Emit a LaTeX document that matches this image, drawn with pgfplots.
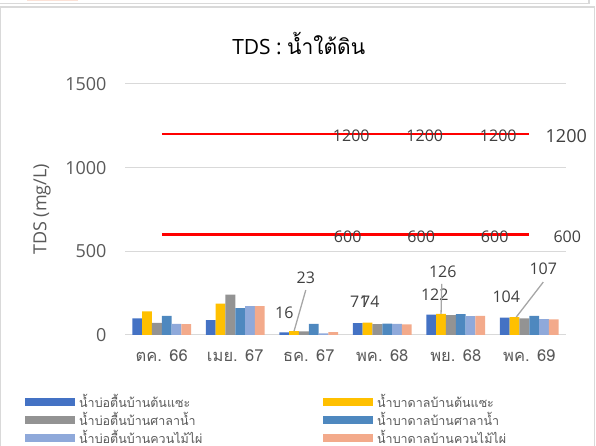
\documentclass[border=0pt]{standalone}
\usepackage{pgfplots}
\usepackage{pgfplotstable}
\pgfplotsset{compat=1.18}
\usepackage{fontspec}
\setmainfont{Open Sans}
\newfontfamily\thai[Script=Thai]{Loma}

\definecolor{txt}{HTML}{595959}
\definecolor{lbl}{HTML}{404040}
\definecolor{gridc}{HTML}{D9D9D9}
\definecolor{leader}{HTML}{A6A6A6}
\definecolor{cA}{HTML}{4472C4}
\definecolor{cB}{HTML}{FFC000}
\definecolor{cC}{HTML}{939393}
\definecolor{cD}{HTML}{4E88BF}
\definecolor{cE}{HTML}{8FA9DA}
\definecolor{cF}{HTML}{F3AA8B}

% TDS (mg/L) per sampling round
\pgfplotstableread{
x s1  s2  s3  s4  s5  s6
0 99  141 73  115 67  65
1 89  187 242 161 173 173
2 16  23  22  67  10  17
3 71  74  65  68  67  63
4 122 126 119 125 113 115
5 104 107 99  115 95  93
}\tds

\pgfplotsset{chart/.style={
    scale only axis, width=441bp, height=251bp,
    at={(125bp,111bp)}, anchor=south west,
    xmin=-0.5, xmax=5.5, ymin=0, ymax=1500}}
\tikzset{lab/.style={lbl, font=\fontsize{16bp}{18bp}\selectfont, inner sep=0pt}}

\begin{document}
\begin{tikzpicture}[x=1bp,y=1bp]
\useasboundingbox (0,0) rectangle (596,446);
% chart frame and the edge of the chart above
\draw[gridc, line width=1.2bp] (0.6,-2) -- (0.6,439) -- (594.4,439) -- (594.4,-2);
\draw[gridc, line width=1.2bp] (0,442.5) -- (589,442.5) -- (589,447);
\fill[cF!35] (27,445.2) rectangle (78,447);

\begin{axis}[chart,
    ybar=0pt, bar width=9.8bp,
    xtick={0,...,5},
    xticklabels={{ตค. 66},{เมย. 67},{ธค. 67},{พค. 68},{พย. 68},{พค. 69}},
    ytick={0,500,1000,1500},
    ymajorgrids, grid style={gridc, line width=1bp},
    axis line style={draw=none}, major tick length=0pt,
    /pgf/number format/assume math mode=true,
    /pgf/number format/1000 sep={},
    yticklabel style={text=txt, font=\fontsize{18bp}{20bp}\selectfont, xshift=-15bp},
    xticklabel style={text=txt, font=\fontsize{16.5bp}{18bp}\selectfont\thai, yshift=-11bp},
    ylabel={TDS (mg/L)},
    ylabel style={at={(axis description cs:-0.188,0.5)}, anchor=center,
        text=txt, font=\fontsize{18bp}{20bp}\selectfont},
    title={TDS : {\thai น้ำใต้ดิน}},
    title style={at={(axis description cs:0.394,1.139)}, anchor=center,
        font=\fontsize{21bp}{24bp}\selectfont},
    legend style={at={(axis description cs:-0.2268,-0.229)}, anchor=north west,
        draw=none, fill=none, inner sep=0pt, row sep=0bp,
        legend columns=2, text=txt,
        font=\fontsize{12.5bp}{14bp}\selectfont\thai,
        nodes={inner xsep=2bp, inner ysep=0pt, outer sep=0pt}},
    legend cell align=left,
    legend image code/.code={\fill[#1] (0bp,-4bp) rectangle (50bp,4bp);
        \path[draw=none, fill=none] (0bp,-9bp) rectangle (52bp,9bp);},
]
\addplot[fill=cA, draw=none] table[x=x, y=s1] {\tds};
\addlegendentry{\makebox[242bp][l]{น้ำบ่อตื้นบ้านต้นแซะ}}
\addplot[fill=cB, draw=none] table[x=x, y=s2] {\tds};
\addlegendentry{น้ำบาดาลบ้านต้นแซะ}
\addplot[fill=cC, draw=none] table[x=x, y=s3] {\tds};
\addlegendentry{\makebox[242bp][l]{น้ำบ่อตื้นบ้านศาลาน้ำ}}
\addplot[fill=cD, draw=none] table[x=x, y=s4] {\tds};
\addlegendentry{น้ำบาดาลบ้านศาลาน้ำ}
\addplot[fill=cE, draw=none] table[x=x, y=s5] {\tds};
\addlegendentry{\makebox[242bp][l]{น้ำบ่อตื้นบ้านควนไม้ไผ่}}
\addplot[fill=cF, draw=none] table[x=x, y=s6] {\tds};
\addlegendentry{น้ำบาดาลบ้านควนไม้ไผ่}
\end{axis}

\begin{axis}[chart, hide axis, clip=false]
\addplot[red, line width=2.2bp, mark=none] coordinates {(0,1200) (1,1200) (2,1200) (3,1200) (4,1200) (5,1200)};
\addplot[red, line width=2.2bp, mark=none] coordinates {(0,600) (1,600) (2,600) (3,600) (4,600) (5,600)};
% labels on the limit lines
\node[lab, anchor=west, xshift=24bp, yshift=-2bp] at (axis cs:2,1200) {1200};
\node[lab, anchor=west, xshift=24bp, yshift=-2bp] at (axis cs:3,1200) {1200};
\node[lab, anchor=west, xshift=24bp, yshift=-2bp] at (axis cs:4,1200) {1200};
\node[lab, anchor=west, xshift=25bp, yshift=-2bp] at (axis cs:2,600) {600};
\node[lab, anchor=west, xshift=25bp, yshift=-2bp] at (axis cs:3,600) {600};
\node[lab, anchor=west, xshift=25bp, yshift=-2bp] at (axis cs:4,600) {600};
\node[lab, font=\fontsize{18bp}{20bp}\selectfont, xshift=37bp, yshift=-1.5bp] at (axis cs:5,1200) {1200};
\node[lab, xshift=38bp, yshift=-2bp] at (axis cs:5,600) {600};
% bar value labels
\node[lab, xshift=-24.5bp, yshift=20bp] at (axis cs:2,16) {16};
\node[lab, xshift=-3bp, yshift=53bp] at (axis cs:2,23) {23};
\draw[leader, line width=1.3bp] ([xshift=-3bp, yshift=41bp]axis cs:2,23) -- ([xshift=-14.7bp]axis cs:2,23);
\node[lab, xshift=-23bp, yshift=21bp] at (axis cs:3,71) {71};
\node[lab, xshift=-12bp, yshift=20.5bp] at (axis cs:3,74) {74};
\node[lab, xshift=-21bp, yshift=19.5bp] at (axis cs:4,122) {122};
\node[lab, xshift=-13bp, yshift=42bp] at (axis cs:4,126) {126};
\draw[leader, line width=1.3bp] ([xshift=-14bp, yshift=30bp]axis cs:4,126) -- ([xshift=-14.7bp]axis cs:4,126);
\node[lab, xshift=-23bp, yshift=20.5bp] at (axis cs:5,104) {104};
\node[lab, xshift=14bp, yshift=48bp] at (axis cs:5,107) {107};
\draw[leader, line width=1.3bp] ([xshift=14bp, yshift=35bp]axis cs:5,107) -- ([xshift=-13bp]axis cs:5,107);
\end{axis}
\end{tikzpicture}
\end{document}
